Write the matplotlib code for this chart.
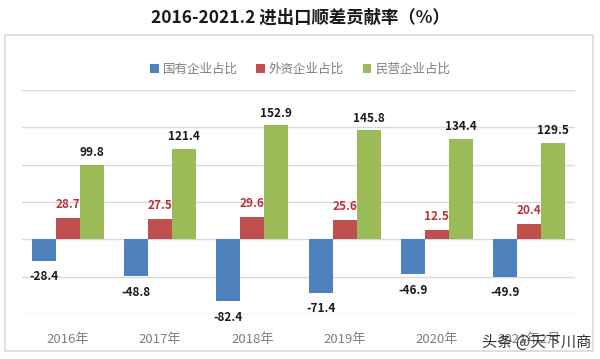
import numpy as np
import matplotlib.pyplot as plt
from matplotlib.patches import Rectangle

plt.rcParams['font.family'] = ['Noto Sans CJK SC', 'DejaVu Sans']

# dados
anos = ['2016年', '2017年', '2018年', '2019年', '2020年', '2021年2月']
estatais = [-28.4, -48.8, -82.4, -71.4, -46.9, -49.9]
estrangeiras = [28.7, 27.5, 29.6, 25.6, 12.5, 20.4]
privadas = [99.8, 121.4, 152.9, 145.8, 134.4, 129.5]
series = ['国有企业占比', '外资企业占比', '民营企业占比']

cores = ['#4F81BD', '#C0504D', '#9BBB59']

fig = plt.figure(figsize=(6, 3.59), dpi=100)
ax = fig.add_axes([0.0367, 0.1253, 0.9216, 0.6240])

# moldura cinza do gráfico
fig.patches.append(Rectangle((5 / 600, 1 - 351 / 359), 588 / 600, 316 / 359,
                             transform=fig.transFigure, fill=False,
                             edgecolor='#d9d9d9', linewidth=1.2))

x = np.arange(len(anos))
w = 0.26
b1 = ax.bar(x - w, estatais, w, color=cores[0], label=series[0], zorder=3)
b2 = ax.bar(x, estrangeiras, w, color=cores[1], label=series[1], zorder=3)
b3 = ax.bar(x + w, privadas, w, color=cores[2], label=series[2], zorder=3)

ax.bar_label(b1, fmt='%.1f', padding=7, fontsize=8.5, fontweight='bold', color='#1a1a1a')
ax.bar_label(b2, fmt='%.1f', padding=5, fontsize=8.5, fontweight='bold', color='#B8323A')
ax.bar_label(b3, fmt='%.1f', padding=4, fontsize=8.5, fontweight='bold', color='#1a1a1a')

ax.set_xlim(-0.5, len(anos) - 0.5)
ax.set_ylim(-100, 200)
ax.set_yticks(np.arange(-100, 201, 50))
ax.yaxis.grid(True, color='#d9d9d9', linewidth=1, zorder=0)
ax.tick_params(axis='y', left=False, labelleft=False)
ax.tick_params(axis='x', bottom=False, labelsize=9.5, labelcolor='#7f7f7f', pad=10)
ax.set_xticks(x)
ax.set_xticklabels(anos)
for s in ax.spines.values():
    s.set_visible(False)

fig.legend(loc='center', bbox_to_anchor=(0.5, 1 - 69 / 359), ncol=3, frameon=False,
           fontsize=9, labelcolor='#7f7f7f', handlelength=0.7, handleheight=0.7,
           handletextpad=0.3, columnspacing=1.5)

fig.text(0.5, 1 - 18 / 359, '2016-2021.2 进出口顺差贡献率（%）', ha='center', va='center',
         fontsize=12.5, fontweight='bold', color='#1a1a1a')

fig.text(0.985, 1 - 342 / 359, '头条 @天下川商', ha='right', va='center',
         fontsize=11, color='#333333')

fig.savefig('out.png', dpi=100)
